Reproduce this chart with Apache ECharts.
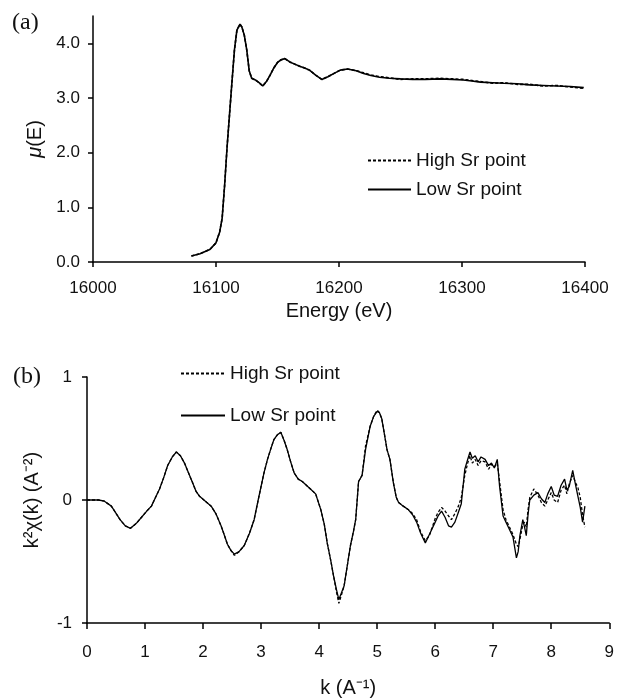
<!DOCTYPE html>
<html>
<head>
<meta charset="utf-8">
<script src="https://cdn.jsdelivr.net/npm/echarts@6/dist/echarts.min.js"></script>
<style>html,body{margin:0;padding:0;background:#fff}#c{width:617px;height:700px}</style>
</head>
<body>
<div id="c"></div>
<script>
// ---------- Panel (a): absorption spectrum ----------
const energy = [16080,16087,16095,16100,16103,16105,16107,16109,16111,16113,16115,16117,16119.5,16121,16123,16125,16127,16129,16132,16135,16138,16141,16144,16147,16150,16153,16156,16160,16164,16168,16172,16176,16181,16186,16191,16196,16201,16207,16214,16220,16226,16233,16241,16250,16260,16270,16282,16292,16301,16308,16315,16325,16334,16345,16355,16366,16377,16388,16399];
const muLow = [0.11,0.15,0.23,0.35,0.55,0.80,1.40,2.10,2.70,3.30,3.88,4.24,4.35,4.30,4.15,3.88,3.50,3.36,3.33,3.28,3.22,3.30,3.42,3.55,3.65,3.70,3.72,3.66,3.62,3.58,3.55,3.51,3.42,3.34,3.39,3.45,3.51,3.53,3.50,3.45,3.41,3.38,3.36,3.35,3.34,3.34,3.35,3.34,3.33,3.31,3.29,3.28,3.27,3.26,3.24,3.23,3.22,3.21,3.19];
const muHigh = [0.11,0.15,0.23,0.35,0.55,0.80,1.40,2.10,2.70,3.30,3.88,4.24,4.35,4.30,4.15,3.88,3.50,3.36,3.33,3.28,3.22,3.30,3.42,3.55,3.65,3.70,3.72,3.66,3.62,3.58,3.55,3.51,3.42,3.34,3.39,3.45,3.51,3.53,3.50,3.46,3.42,3.39,3.37,3.34,3.35,3.35,3.36,3.35,3.34,3.32,3.30,3.27,3.28,3.25,3.25,3.22,3.23,3.20,3.18];
const energyTicks = [16000,16100,16200,16300,16400];
const muTicks = [0,1,2,3,4];

// ---------- Panel (b): EXAFS k^2 chi(k) ----------
const kVals = [0,0.1,0.2,0.3,0.42,0.57,0.66,0.75,0.85,0.94,1.03,1.11,1.18,1.25,1.32,1.39,1.47,1.54,1.61,1.68,1.75,1.82,1.88,1.94,2.04,2.14,2.22,2.31,2.37,2.42,2.48,2.54,2.62,2.71,2.80,2.88,2.95,3.0,3.05,3.11,3.17,3.22,3.28,3.34,3.40,3.45,3.51,3.57,3.64,3.71,3.78,3.85,3.94,4.03,4.09,4.14,4.20,4.25,4.30,4.34,4.38,4.43,4.48,4.54,4.59,4.63,4.68,4.74,4.80,4.88,4.94,5.0,5.04,5.08,5.12,5.17,5.22,5.28,5.33,5.37,5.45,5.54,5.61,5.68,5.75,5.83,5.90,6.0,6.05,6.11,6.17,6.23,6.28,6.34,6.40,6.45,6.51,6.56,6.6,6.64,6.69,6.74,6.79,6.86,6.92,6.97,7.02,7.07,7.11,7.17,7.22,7.28,7.34,7.40,7.43,7.46,7.51,7.54,7.57,7.60,7.63,7.70,7.77,7.83,7.89,7.94,8.0,8.05,8.11,8.17,8.23,8.27,8.31,8.37,8.42,8.46,8.50,8.54,8.58];
const chiLow = [0,0,0,-0.01,-0.05,-0.16,-0.21,-0.23,-0.19,-0.14,-0.09,-0.05,0.02,0.09,0.18,0.28,0.35,0.39,0.36,0.30,0.22,0.14,0.07,0.03,-0.01,-0.05,-0.11,-0.21,-0.29,-0.36,-0.41,-0.44,-0.42,-0.37,-0.27,-0.16,0.0,0.11,0.22,0.33,0.42,0.49,0.53,0.55,0.48,0.41,0.31,0.22,0.17,0.15,0.12,0.09,0.05,-0.08,-0.20,-0.35,-0.49,-0.62,-0.73,-0.81,-0.76,-0.70,-0.55,-0.37,-0.26,-0.16,0.15,0.20,0.41,0.60,0.68,0.72,0.71,0.66,0.55,0.41,0.33,0.14,0.02,-0.02,-0.05,-0.08,-0.12,-0.18,-0.27,-0.35,-0.28,-0.18,-0.13,-0.09,-0.14,-0.21,-0.22,-0.18,-0.10,-0.03,0.25,0.33,0.39,0.34,0.36,0.31,0.35,0.33,0.28,0.30,0.26,0.33,0.11,-0.13,-0.18,-0.24,-0.30,-0.47,-0.42,-0.29,-0.16,-0.22,-0.29,-0.12,0.0,0.04,0.06,0.01,-0.02,0.05,0.11,0.04,0.03,0.12,0.17,0.08,0.11,0.24,0.12,0.03,-0.06,-0.18,-0.05];
const chiHigh = [0,0,0,-0.01,-0.05,-0.16,-0.21,-0.23,-0.19,-0.14,-0.09,-0.05,0.02,0.09,0.18,0.28,0.35,0.39,0.36,0.30,0.22,0.14,0.07,0.03,-0.01,-0.05,-0.11,-0.21,-0.29,-0.36,-0.41,-0.45,-0.42,-0.37,-0.27,-0.16,0.0,0.11,0.22,0.33,0.42,0.49,0.53,0.55,0.48,0.41,0.31,0.22,0.17,0.15,0.12,0.09,0.05,-0.08,-0.20,-0.35,-0.49,-0.62,-0.75,-0.84,-0.78,-0.70,-0.55,-0.37,-0.26,-0.16,0.15,0.20,0.44,0.60,0.68,0.73,0.71,0.66,0.55,0.41,0.33,0.14,0.02,-0.02,-0.05,-0.08,-0.11,-0.16,-0.26,-0.33,-0.29,-0.15,-0.10,-0.06,-0.09,-0.13,-0.16,-0.11,-0.05,0.02,0.20,0.30,0.36,0.30,0.33,0.28,0.32,0.31,0.25,0.29,0.27,0.30,0.15,-0.08,-0.16,-0.22,-0.28,-0.36,-0.38,-0.32,-0.20,-0.18,-0.22,-0.08,0.02,0.09,0.04,-0.02,-0.05,0.0,0.06,0.0,-0.02,0.08,0.12,0.05,0.13,0.20,0.14,0.10,0.02,-0.12,-0.22];
const kTicks = [0,1,2,3,4,5,6,7,8,9];
const chiTicks = [-1,0,1];

const seriesNames = ['High Sr point','Low Sr point'];

const FONT = '"Liberation Sans", Arial, sans-serif';
const zip = (xs, ys) => xs.map((x, i) => [x, ys[i]]);

const axisCommon = {
  axisLine: { show: true, onZero: false, lineStyle: { color: '#000', width: 1.5 } },
  axisTick: { show: true, length: 5, lineStyle: { color: '#000', width: 1.5 } },
  splitLine: { show: false },
  axisLabel: { color: '#111', fontSize: 17, fontFamily: FONT, formatter: v => String(v) },
  nameTextStyle: { color: '#111', fontSize: 20, fontFamily: FONT }
};

const legendCommon = {
  orient: 'vertical', itemHeight: 14,
  textStyle: { fontSize: 19, fontFamily: FONT, color: '#111' },
  itemStyle: { opacity: 0 },
  data: seriesNames, selectedMode: false
};

const chart = echarts.init(document.getElementById('c'), null, { renderer: 'canvas' });
chart.setOption({
  animation: false,
  backgroundColor: '#fff',
  grid: [
    { left: 93, right: 32, top: 16, height: 246 },
    { left: 87, right: 5, top: 377, height: 246 }
  ],
  xAxis: [
    Object.assign({}, axisCommon, {
      gridIndex: 0, type: 'value', min: 16000, max: 16400, interval: 100,
      name: 'Energy (eV)', nameLocation: 'middle', nameGap: 39,
      axisLabel: Object.assign({}, axisCommon.axisLabel, { margin: 18, customValues: energyTicks }),
      axisTick: Object.assign({}, axisCommon.axisTick, { customValues: energyTicks })
    }),
    Object.assign({}, axisCommon, {
      gridIndex: 1, type: 'value', min: 0, max: 9, interval: 1,
      name: 'k (A⁻¹)', nameLocation: 'middle', nameGap: 55,
      axisLabel: Object.assign({}, axisCommon.axisLabel, { margin: 21, customValues: kTicks }),
      axisTick: Object.assign({}, axisCommon.axisTick, { length: 6, customValues: kTicks })
    })
  ],
  yAxis: [
    Object.assign({}, axisCommon, {
      gridIndex: 0, type: 'value', min: 0, max: 4.5, interval: 1,
      name: '{i|μ}(E)', nameLocation: 'middle', nameGap: 37,
      nameTextStyle: Object.assign({}, axisCommon.nameTextStyle, {
        rich: { i: { fontStyle: 'italic', fontSize: 20, fontFamily: FONT, color: '#111' } }
      }),
      axisLabel: Object.assign({}, axisCommon.axisLabel, {
        margin: 13, customValues: muTicks, formatter: v => v.toFixed(1)
      }),
      axisTick: Object.assign({}, axisCommon.axisTick, { customValues: muTicks })
    }),
    Object.assign({}, axisCommon, {
      gridIndex: 1, type: 'value', min: -1, max: 1, interval: 1,
      name: 'k²χ(k) (A⁻²)', nameLocation: 'middle', nameGap: 45,
      axisLabel: Object.assign({}, axisCommon.axisLabel, { margin: 15, customValues: chiTicks }),
      axisTick: Object.assign({}, axisCommon.axisTick, { customValues: chiTicks })
    })
  ],
  legend: [
    Object.assign({}, legendCommon, { left: 362, top: 146, itemWidth: 43, itemGap: 10 }),
    Object.assign({}, legendCommon, { left: 175, top: 359, itemWidth: 44, itemGap: 23 })
  ],
  graphic: [
    { type: 'text', left: 12, top: 11, style: { text: '(a)', font: '24px "Liberation Serif", "Times New Roman", serif', fill: '#111' } },
    { type: 'text', left: 13, top: 365, style: { text: '(b)', font: '24px "Liberation Serif", "Times New Roman", serif', fill: '#111' } }
  ],
  series: [
    { name: seriesNames[0], type: 'line', xAxisIndex: 0, yAxisIndex: 0, symbol: 'none',
      data: zip(energy, muHigh), lineStyle: { color: '#000', width: 1.6, type: [3, 2] }, itemStyle: { color: '#000' } },
    { name: seriesNames[1], type: 'line', xAxisIndex: 0, yAxisIndex: 0, symbol: 'none',
      data: zip(energy, muLow), lineStyle: { color: '#000', width: 1.6 }, itemStyle: { color: '#000' } },
    { name: seriesNames[0], type: 'line', xAxisIndex: 1, yAxisIndex: 1, symbol: 'none',
      data: zip(kVals, chiHigh), lineStyle: { color: '#000', width: 1.3, type: [3, 2] }, itemStyle: { color: '#000' } },
    { name: seriesNames[1], type: 'line', xAxisIndex: 1, yAxisIndex: 1, symbol: 'none',
      data: zip(kVals, chiLow), lineStyle: { color: '#000', width: 1.3 }, itemStyle: { color: '#000' } }
  ]
});
</script>
</body>
</html>
